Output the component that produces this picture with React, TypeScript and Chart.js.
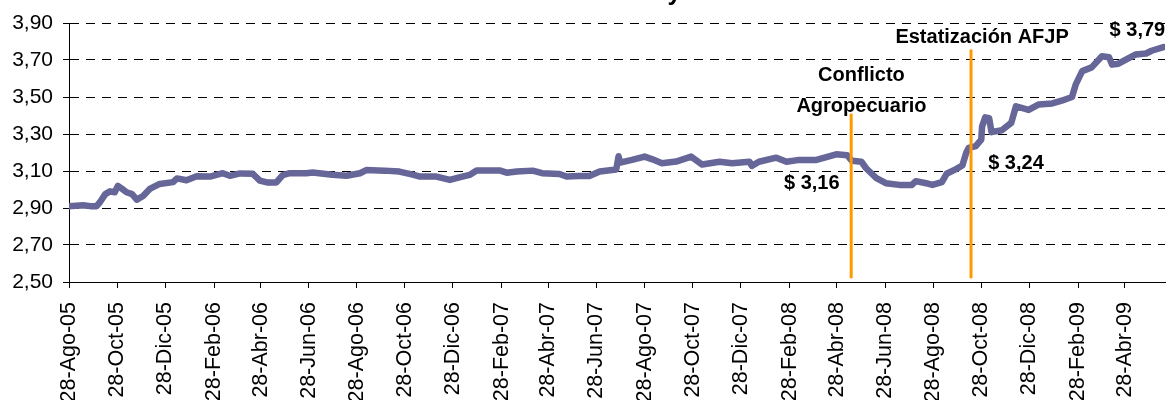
import React, { useEffect, useRef } from 'react';
import { Chart, registerables } from 'chart.js';

Chart.register(...registerables);

const chartTitle = 'Evolución del Dólar Mayorista';

// x tick positions (days since 28-Ago-05) and their labels
const tickDays = [0, 61, 122, 184, 243, 304, 365, 426, 487, 549, 608, 669, 730, 791, 852, 914, 974, 1035, 1096, 1157, 1218, 1280, 1339];
const tickLabels = ['28-Ago-05', '28-Oct-05', '28-Dic-05', '28-Feb-06', '28-Abr-06', '28-Jun-06', '28-Ago-06', '28-Oct-06', '28-Dic-06', '28-Feb-07', '28-Abr-07', '28-Jun-07', '28-Ago-07', '28-Oct-07', '28-Dic-07', '28-Feb-08', '28-Abr-08', '28-Jun-08', '28-Ago-08', '28-Oct-08', '28-Dic-08', '28-Feb-09', '28-Abr-09'];
const yTicks = [2.5, 2.7, 2.9, 3.1, 3.3, 3.5, 3.7, 3.9];

// series: day offset and exchange rate
const days = [0, 18, 27, 35, 39, 46, 52, 58, 62, 67, 73, 80, 86, 94, 103, 115, 132, 137, 149, 162, 179, 195, 204, 217, 233, 242, 251, 263, 271, 280, 301, 309, 334, 352, 369, 377, 400, 419, 436, 445, 466, 483, 495, 508, 517, 546, 555, 568, 588, 600, 622, 631, 647, 660, 673, 694, 697, 699, 714, 730, 740, 752, 770, 789, 803, 825, 841, 863, 866, 875, 897, 910, 926, 948, 973, 987, 993, 1005, 1011, 1024, 1036, 1053, 1069, 1074, 1087, 1095, 1107, 1113, 1125, 1133, 1138, 1141, 1150, 1157, 1158, 1162, 1167, 1170, 1183, 1195, 1201, 1217, 1230, 1247, 1259, 1272, 1277, 1285, 1297, 1310, 1319, 1323, 1331, 1344, 1353, 1366, 1373, 1388];
const rates = [2.91, 2.915, 2.91, 2.91, 2.93, 2.975, 2.99, 2.985, 3.02, 3.005, 2.985, 2.975, 2.945, 2.965, 3.005, 3.03, 3.04, 3.06, 3.05, 3.072, 3.07, 3.088, 3.074, 3.087, 3.085, 3.048, 3.038, 3.038, 3.078, 3.088, 3.088, 3.092, 3.08, 3.074, 3.088, 3.105, 3.102, 3.097, 3.08, 3.07, 3.07, 3.052, 3.066, 3.079, 3.103, 3.103, 3.091, 3.097, 3.102, 3.088, 3.084, 3.07, 3.073, 3.073, 3.097, 3.108, 3.18, 3.145, 3.16, 3.178, 3.163, 3.142, 3.151, 3.178, 3.135, 3.15, 3.142, 3.15, 3.128, 3.15, 3.172, 3.15, 3.16, 3.16, 3.19, 3.185, 3.155, 3.15, 3.115, 3.061, 3.034, 3.025, 3.025, 3.045, 3.034, 3.025, 3.04, 3.085, 3.11, 3.13, 3.2, 3.225, 3.235, 3.27, 3.34, 3.39, 3.385, 3.31, 3.32, 3.36, 3.45, 3.43, 3.46, 3.465, 3.48, 3.5, 3.57, 3.64, 3.66, 3.72, 3.715, 3.675, 3.68, 3.71, 3.73, 3.735, 3.75, 3.77];

// event markers
const eventDays = [992, 1144];
const eventTops = [3.41, 3.757];
const eventBottom = 2.52;

// annotations
const noteTexts = ['Conflicto', 'Agropecuario', 'Estatización AFJP', '$ 3,16', '$ 3,24', '$ 3,79'];
const noteDays = [1005, 1005, 1158, 942, 1201, 1355];
const noteValues = [3.617, 3.45, 3.823, 3.03, 3.14, 3.86];

const FONT = '"Liberation Sans", Arial, sans-serif';

const notesPlugin = {
  id: 'notes',
  afterDatasetsDraw(chart: any) {
    const { ctx } = chart;
    const x = chart.scales.x;
    const y = chart.scales.y;
    ctx.save();
    ctx.strokeStyle = '#FF9900';
    ctx.lineWidth = 3;
    eventDays.forEach((d, i) => {
      const px = x.getPixelForValue(d);
      ctx.beginPath();
      ctx.moveTo(px, y.getPixelForValue(eventBottom));
      ctx.lineTo(px, y.getPixelForValue(eventTops[i]));
      ctx.stroke();
    });
    ctx.fillStyle = '#000';
    ctx.font = 'bold 20px ' + FONT;
    ctx.textAlign = 'center';
    ctx.textBaseline = 'middle';
    noteTexts.forEach((t, i) => {
      ctx.fillText(t, x.getPixelForValue(noteDays[i]), y.getPixelForValue(noteValues[i]));
    });
    ctx.restore();
  },
  afterDraw(chart: any) {
    const { ctx } = chart;
    ctx.save();
    ctx.fillStyle = '#000';
    ctx.font = 'bold 25px ' + FONT;
    ctx.textAlign = 'center';
    ctx.textBaseline = 'alphabetic';
    ctx.fillText(chartTitle, 571, 0);
    ctx.restore();
  },
};

export default function App() {
  const ref = useRef<HTMLCanvasElement | null>(null);
  useEffect(() => {
    if (!ref.current) return;
    const chart = new Chart(ref.current, {
      type: 'line',
      data: {
        datasets: [
          {
            data: days.map((d, i) => ({ x: d, y: rates[i] })),
            borderColor: '#666699',
            borderWidth: 6.5,
            pointRadius: 0,
            tension: 0,
            borderJoinStyle: 'round',
            borderCapStyle: 'round',
            fill: false,
          },
        ],
      },
      options: {
        animation: false,
        responsive: false,
        devicePixelRatio: 1,
        layout: { padding: { top: 23, right: 4, left: 0, bottom: 0 } },
        plugins: { legend: { display: false }, tooltip: { enabled: false }, title: { display: false } },
        scales: {
          x: {
            type: 'linear',
            min: 0,
            max: 1390,
            afterBuildTicks: (s: any) => {
              s.ticks = tickDays.map((v) => ({ value: v }));
            },
            afterFit: (s: any) => {
              s.height = 118;
            },
            ticks: {
              autoSkip: false,
              minRotation: 90,
              maxRotation: 90,
              padding: 14,
              color: '#000',
              font: { family: FONT, size: 21.5 },
              callback: (_v: any, i: number) => tickLabels[i],
            },
            grid: {
              drawOnChartArea: false,
              drawTicks: true,
              tickLength: 6,
              tickColor: '#000',
              color: '#000',
            },
            border: { display: true, color: '#000', width: 1 },
          },
          y: {
            type: 'linear',
            min: 2.5,
            max: 3.9,
            afterBuildTicks: (s: any) => {
              s.ticks = yTicks.map((v) => ({ value: v }));
            },
            afterFit: (s: any) => {
              s.width = 69;
            },
            ticks: {
              padding: 10,
              color: '#000',
              font: { family: FONT, size: 21 },
              callback: (v: any) => Number(v).toFixed(2).replace('.', ','),
            },
            grid: {
              color: '#000',
              lineWidth: 1,
              tickLength: 6,
              tickColor: '#000',
              tickBorderDash: [],
            },
            border: { display: true, color: '#000', width: 1, dash: [9, 7] },
          },
        },
      },
      plugins: [notesPlugin],
    } as any);
    return () => chart.destroy();
  }, []);
  return (
    <div style={{ position: 'fixed', left: 0, top: 0, width: 1169, height: 400, overflow: 'hidden', background: '#fff' }}>
      <canvas ref={ref} width={1169} height={400} style={{ display: 'block' }} />
    </div>
  );
}
